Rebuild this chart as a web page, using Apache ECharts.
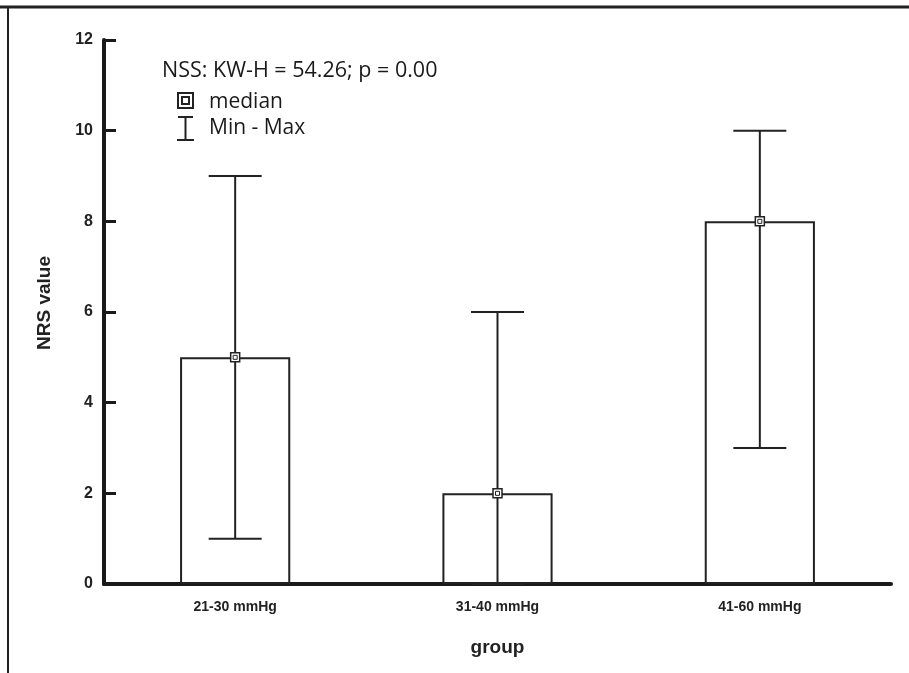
<!DOCTYPE html>
<html><head><meta charset="utf-8">
<script src="https://cdn.jsdelivr.net/npm/echarts@6/dist/echarts.min.js"></script>
<style>html,body{margin:0;padding:0;background:#fff}#c{width:909px;height:673px}</style>
</head><body><div id="c"></div>
<script>
var categories = ['21-30 mmHg', '31-40 mmHg', '41-60 mmHg'];
var medians = [5, 2, 8];
var mins = [1, 0, 3];
var maxs = [9, 6, 10];
var yTicks = [0, 2, 4, 6, 8, 10, 12];
var annotation = 'NSS: KW-H = 54.26; p = 0.00';
var legendItems = ['median', 'Min - Max'];

var chart = echarts.init(document.getElementById('c'));
var whiskerData = categories.map(function (c, i) { return [i, mins[i], maxs[i]]; });
var medianData = categories.map(function (c, i) { return [i, medians[i]]; });
var txtFont = '"Open Sans", "Noto Sans", sans-serif';

chart.setOption({
  backgroundColor: '#fff',
  animation: false,
  grid: { left: 104, right: 18, top: 40, bottom: 89 },
  xAxis: {
    type: 'category', data: categories, boundaryGap: true,
    name: 'group', nameLocation: 'middle', nameGap: 54,
    nameTextStyle: { fontFamily: 'Liberation Sans', fontWeight: 'bold', fontSize: 19, color: '#222' },
    axisLine: { lineStyle: { color: '#1a1a1a', width: 4 } },
    axisTick: { show: false },
    axisLabel: { margin: 16, fontFamily: 'Liberation Sans', fontWeight: 'bold', fontSize: 14, color: '#222' },
    splitLine: { show: false }
  },
  yAxis: {
    type: 'value', min: 0, max: 12, interval: 2,
    name: 'NRS value', nameLocation: 'middle', nameGap: 50,
    nameTextStyle: { fontFamily: 'Liberation Sans', fontWeight: 'bold', fontSize: 19, color: '#222', padding: [0, 0, 0, 18] },
    axisLine: { show: true, lineStyle: { color: '#1a1a1a', width: 4 } },
    axisTick: { show: true, inside: true, length: 12, lineStyle: { color: '#1a1a1a', width: 3 } },
    axisLabel: { margin: 11, fontFamily: 'Liberation Sans', fontWeight: 'bold', fontSize: 16, color: '#222',
      formatter: function (v) { return yTicks.indexOf(v) >= 0 ? String(v) : ''; } },
    splitLine: { show: false }
  },
  series: [
    {
      type: 'bar', data: medians, barWidth: '42%', z: 1,
      itemStyle: { color: '#fff', borderColor: '#222', borderWidth: 2 }
    },
    {
      type: 'custom', z: 3, data: whiskerData,
      renderItem: function (params, api) {
        var x = api.value(0);
        var lo = api.coord([x, api.value(1)]);
        var hi = api.coord([x, api.value(2)]);
        var half = api.size([1, 0])[0] * 0.101;
        var st = { stroke: '#222', lineWidth: 2 };
        return { type: 'group', children: [
          { type: 'line', shape: { x1: lo[0], y1: lo[1], x2: hi[0], y2: hi[1] }, style: st },
          { type: 'line', shape: { x1: hi[0] - half, y1: hi[1], x2: hi[0] + half, y2: hi[1] }, style: st },
          { type: 'line', shape: { x1: lo[0] - half, y1: lo[1], x2: lo[0] + half, y2: lo[1] }, style: st }
        ] };
      }
    },
    {
      type: 'custom', z: 4, data: medianData,
      renderItem: function (params, api) {
        var p = api.coord([api.value(0), api.value(1)]);
        return { type: 'group', children: [
          { type: 'rect', shape: { x: p[0] - 4.5, y: p[1] - 4.5, width: 9, height: 9 }, style: { fill: '#fff', stroke: '#222', lineWidth: 1.5 } },
          { type: 'rect', shape: { x: p[0] - 2, y: p[1] - 2, width: 4, height: 4 }, style: { fill: 'none', stroke: '#222', lineWidth: 1 } }
        ] };
      }
    }
  ],
  graphic: [
    { type: 'line', shape: { x1: 0, y1: 7, x2: 909, y2: 7 }, style: { stroke: '#222', lineWidth: 3 } },
    { type: 'line', shape: { x1: 8, y1: 7, x2: 8, y2: 673 }, style: { stroke: '#222', lineWidth: 2 } },
    { type: 'text', left: 162, top: 60, style: { text: annotation, font: '21.5px ' + txtFont, fill: '#1a1a1a' } },
    { type: 'rect', shape: { x: 178, y: 93, width: 15, height: 15 }, style: { fill: 'none', stroke: '#222', lineWidth: 2 } },
    { type: 'rect', shape: { x: 182, y: 97, width: 7, height: 7 }, style: { fill: 'none', stroke: '#222', lineWidth: 2 } },
    { type: 'line', shape: { x1: 178, y1: 117, x2: 193, y2: 117 }, style: { stroke: '#222', lineWidth: 2 } },
    { type: 'line', shape: { x1: 185.5, y1: 117, x2: 185.5, y2: 140 }, style: { stroke: '#222', lineWidth: 2 } },
    { type: 'line', shape: { x1: 177, y1: 140, x2: 194, y2: 140 }, style: { stroke: '#222', lineWidth: 2 } },
    { type: 'text', left: 209, top: 92, style: { text: legendItems[0], font: '21px ' + txtFont, fill: '#1a1a1a' } },
    { type: 'text', left: 209, top: 118, style: { text: legendItems[1], font: '21px ' + txtFont, fill: '#1a1a1a' } }
  ]
});
</script></body></html>
